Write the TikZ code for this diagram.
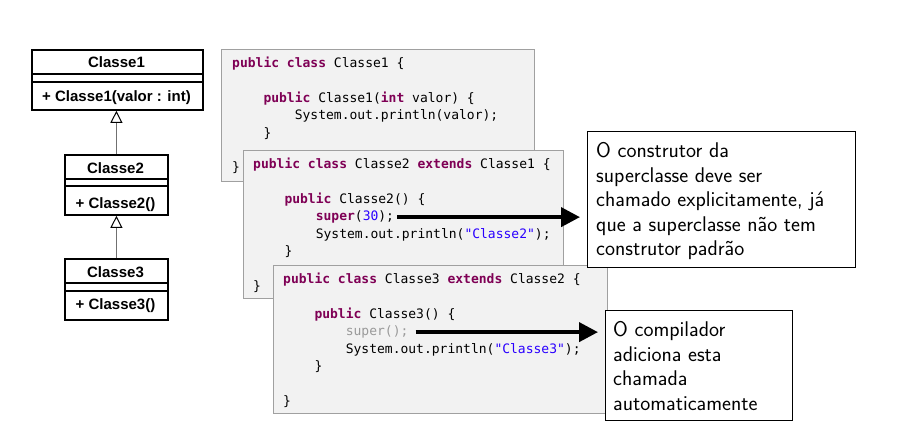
\documentclass[tikz,border=0pt]{standalone}
\usepackage{fontspec}
\newfontfamily\codefont{DejaVu Sans Mono}
\newfontfamily\umlfont{Liberation Sans}
\usetikzlibrary{arrows.meta}
\definecolor{kwc}{HTML}{7F0055}
\definecolor{strc}{HTML}{2A00FF}
\definecolor{supc}{HTML}{9A9A9A}
\definecolor{boxfill}{HTML}{F2F2F2}
\definecolor{boxdraw}{HTML}{A0A0A0}
\definecolor{inhc}{HTML}{707070}
\newcommand{\kw}[1]{\textcolor{kwc}{\bfseries #1}}
\newcommand{\stv}[1]{\textcolor{strc}{#1}}
\begin{document}
\begin{tikzpicture}[x=1pt,y=-1pt,
  codebox/.style={draw=boxdraw, fill=boxfill, line width=1.4pt, rectangle, inner sep=0pt, anchor=north west},
  code/.style={anchor=base west, inner sep=0pt, font=\codefont\fontsize{13}{17.4}\selectfont},
  umlbox/.style={draw=black, line width=1.8pt, fill=white, rectangle, inner sep=0pt, anchor=north west},
  umlsep/.style={draw=black, line width=1.2pt},
  umltext/.style={anchor=base, inner sep=0pt, font=\umlfont\bfseries\fontsize{15}{18}\selectfont},
  callout/.style={draw=black, line width=1.2pt, fill=white, rectangle, inner sep=0pt, anchor=north west},
  callouttext/.style={anchor=north west, inner sep=0pt, align=left, font=\sffamily\fontsize{21.3}{24.5}\selectfont},
  bigarrow/.style={line width=4pt, -{Triangle[length=19pt,width=19pt]}},
  inherit/.style={draw=inhc, line width=1.6pt, -{Triangle[length=12pt,width=12pt,color=black,fill=white,line width=1pt]}}
]
\path[fill=white, use as bounding box] (0,0) rectangle (899,444);

% ---------- UML ----------
\node[umlbox, minimum width=171pt, minimum height=60pt] (c1) at (31,49) {};
\draw[umlsep] (c1.west |- 0,74) -- (c1.east |- 0,74);
\draw[umlsep] (c1.west |- 0,82) -- (c1.east |- 0,82);
\node[umltext] (c1n) at (116.5,67.5) {Classe1};
\node[umltext] (c1m) at (116.5,101.5) {+ Classe1(valor : int)};

\node[umlbox, minimum width=103pt, minimum height=60pt] (c2) at (64,154) {};
\draw[umlsep] (c2.west |- 0,179) -- (c2.east |- 0,179);
\draw[umlsep] (c2.west |- 0,186) -- (c2.east |- 0,186);
\node[umltext] (c2n) at (115.5,173.2) {Classe2};
\node[umltext] (c2m) at (115.5,208.7) {+ Classe2()};

\node[umlbox, minimum width=103pt, minimum height=61pt] (c3) at (64,258) {};
\draw[umlsep] (c3.west |- 0,283) -- (c3.east |- 0,283);
\draw[umlsep] (c3.west |- 0,291) -- (c3.east |- 0,291);
\node[umltext] (c3n) at (115.5,277.2) {Classe3};
\node[umltext] (c3m) at (115.5,309.7) {+ Classe3()};

\draw[inherit] (c2.north) -- (c2.north |- c1.south);
\draw[inherit] (c3.north) -- (c2.south);

% ---------- code box 1 ----------
\node[codebox, minimum width=313pt, minimum height=132pt] (b1) at (221,49) {};
\node[code] (b1l1) at (232,67.5) {\kw{public class} Classe1 \{};
\node[code] (b1l3) at (263.3,102.3) {\kw{public} Classe1(\kw{int} valor) \{};
\node[code] (b1l4) at (294.6,119.7) {System.out.println(valor);};
\node[code] (b1l5) at (263.3,137.1) {\}};
\node[code] (b1l7) at (232,171.9) {\}};

% ---------- code box 2 ----------
\node[codebox, minimum width=320pt, minimum height=148pt] (b2) at (243,150) {};
\node[code] (b2l1) at (253,168.5) {\kw{public class} Classe2 \kw{extends} Classe1 \{};
\node[code] (b2l3) at (284.3,203.3) {\kw{public} Classe2() \{};
\node[code] (s2) at (315.6,220.7) {\kw{super}(\stv{30});};
\node[code] (b2l5) at (315.6,238.1) {System.out.println(\stv{"Classe2"});};
\node[code] (b2l6) at (284.3,255.5) {\}};
\node[code] (b2l8) at (253,290.3) {\}};

% ---------- code box 3 ----------
\node[codebox, minimum width=334pt, minimum height=148pt] (b3) at (273,265) {};
\node[code] (b3l1) at (283,283.5) {\kw{public class} Classe3 \kw{extends} Classe2 \{};
\node[code] (b3l3) at (314.3,318.3) {\kw{public} Classe3() \{};
\node[code] (s3) at (345.6,335.7) {\textcolor{supc}{super();}};
\node[code] (b3l5) at (345.6,353.1) {System.out.println(\stv{"Classe3"});};
\node[code] (b3l6) at (314.3,370.5) {\}};
\node[code] (b3l8) at (283,405.3) {\}};

% ---------- callouts ----------
\node[callout, minimum width=268pt, minimum height=136pt] (k1) at (587,131) {};
\node[callouttext] (k1t) at (596,142.3) {O construtor da\\superclasse deve ser\\chamado explicitamente, já\\que a superclasse não tem\\construtor padrão};

\node[callout, minimum width=187pt, minimum height=110pt] (k2) at (605,310) {};
\node[callouttext] (k2t) at (613,321.3) {O compilador\\adiciona esta\\chamada\\automaticamente};

\draw[bigarrow, shorten <=3pt, shorten >=7pt] (s2.east) -- (s2.east -| k1.west);
\draw[bigarrow, shorten <=7pt, shorten >=7pt] (s3.east) -- (s3.east -| k2.west);
\end{tikzpicture}
\end{document}
